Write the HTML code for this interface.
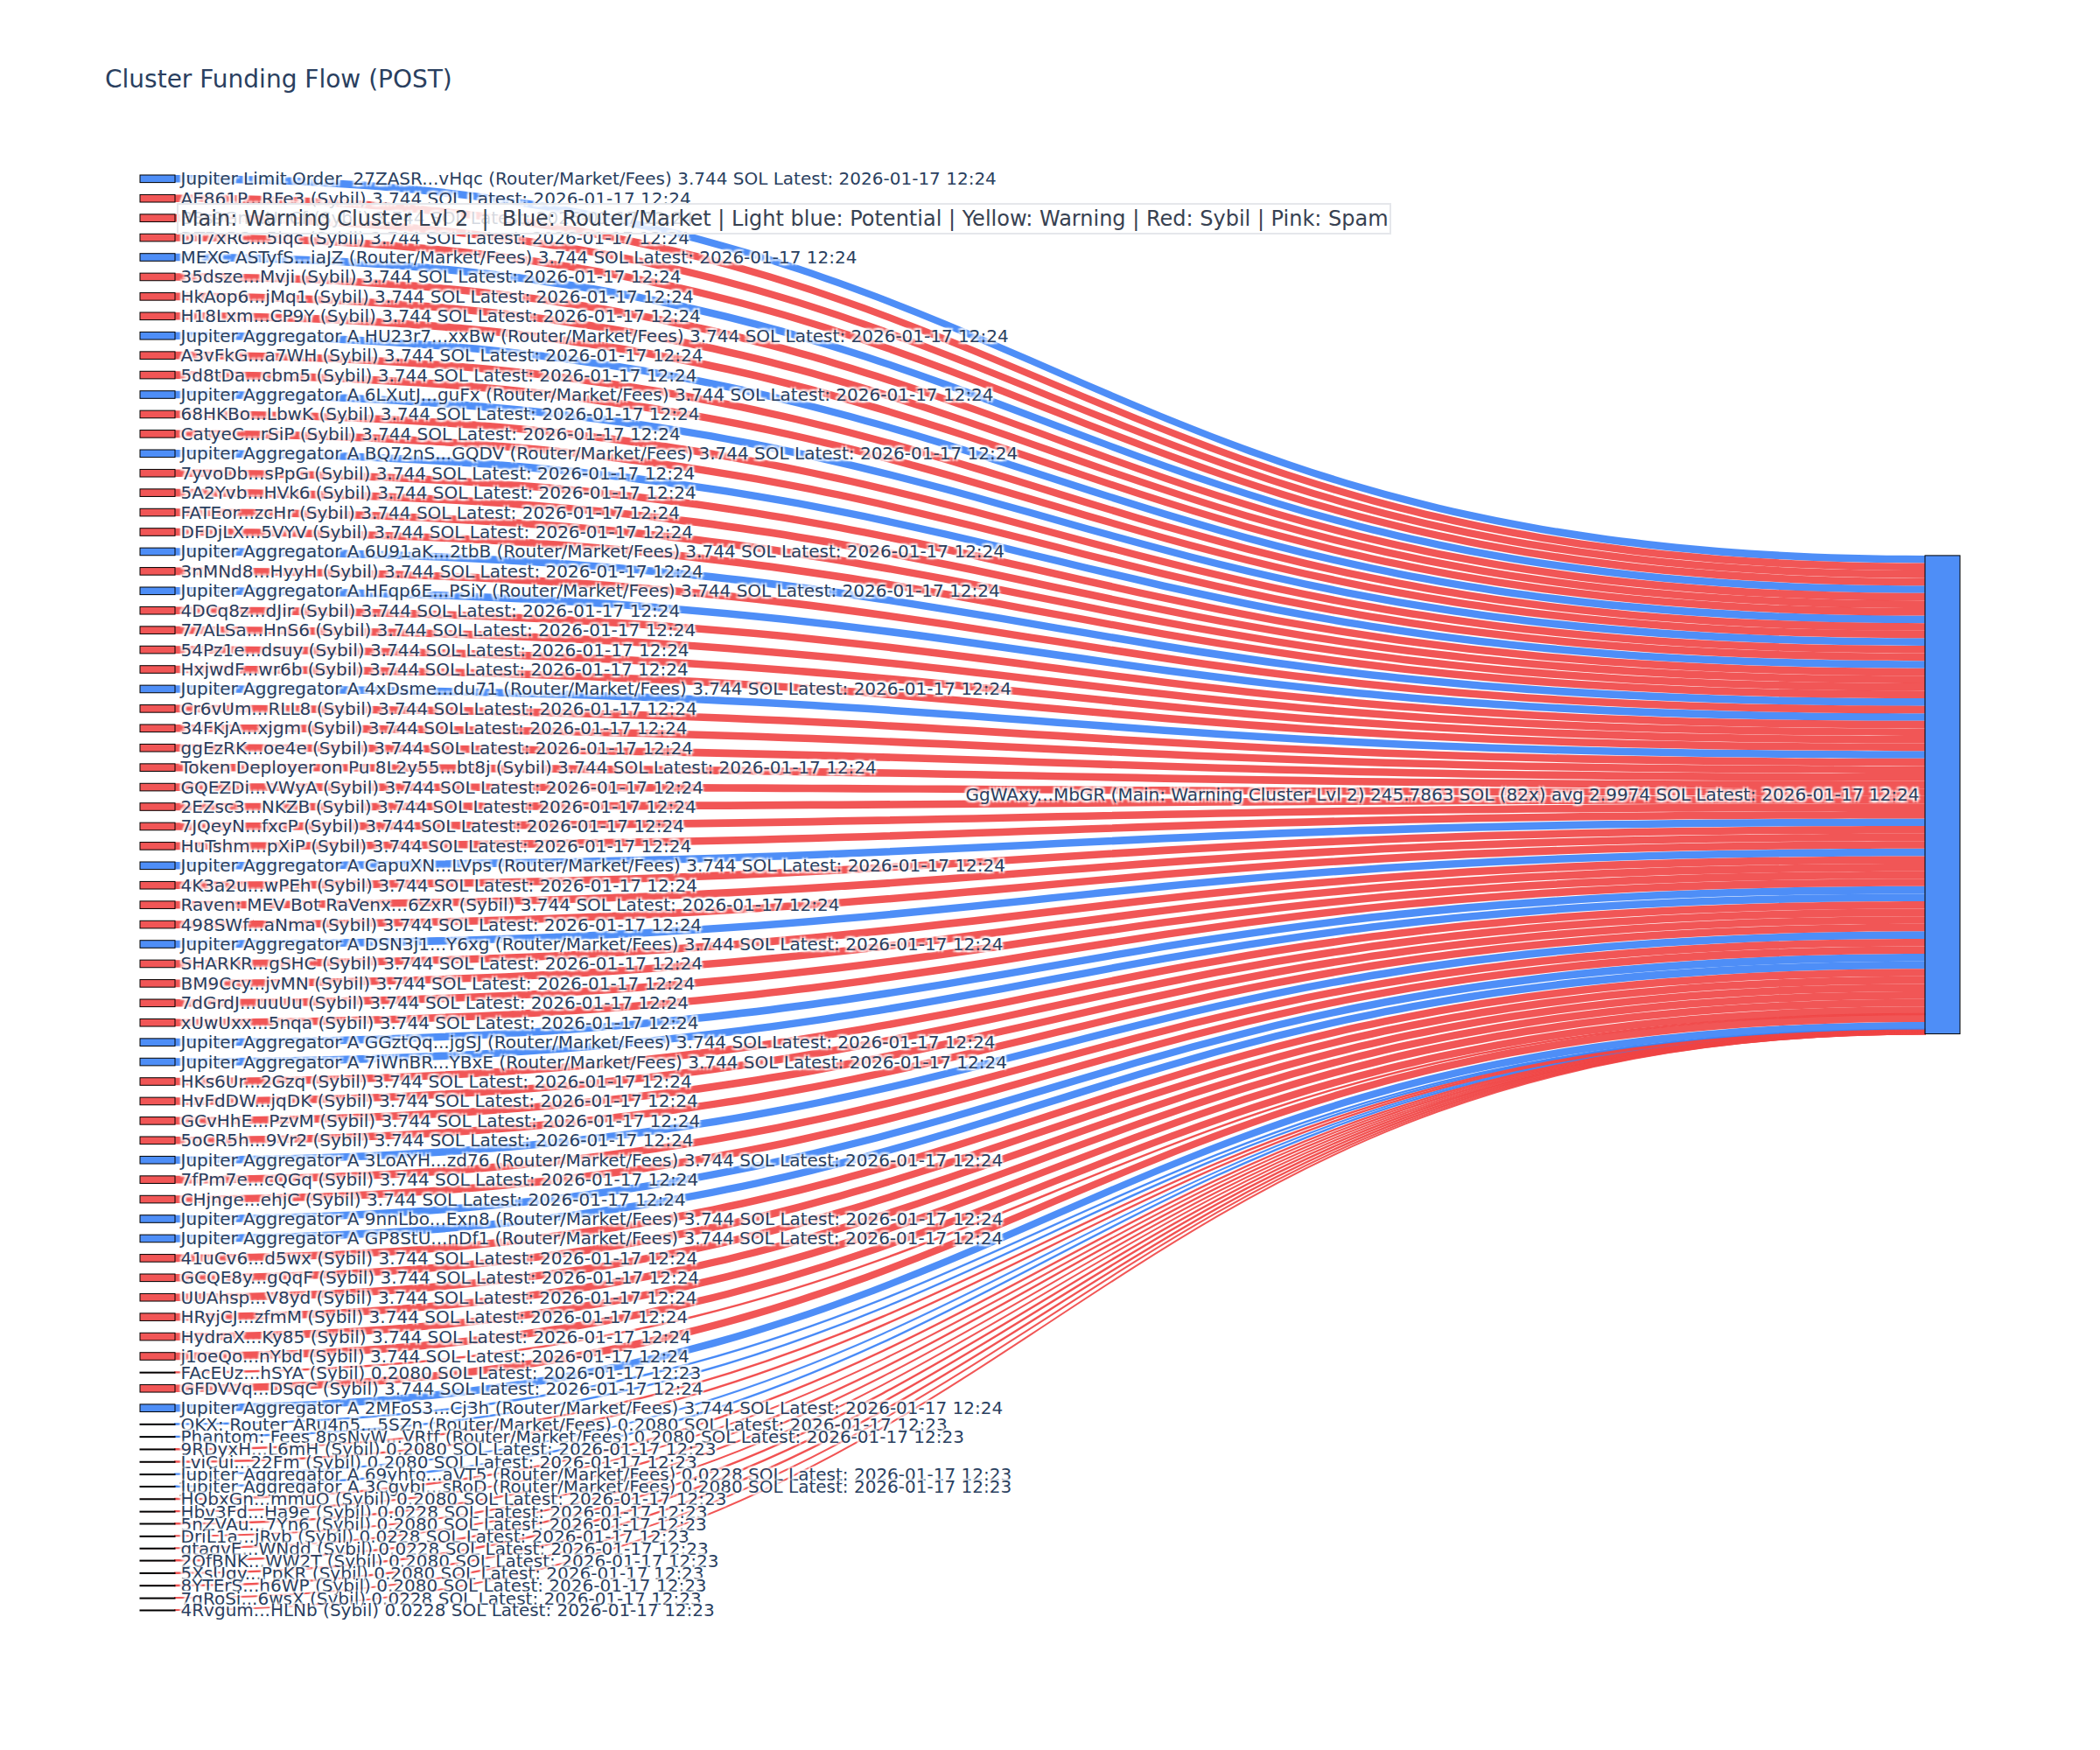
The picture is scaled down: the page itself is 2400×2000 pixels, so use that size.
<!DOCTYPE html>
<html lang="en"><head><meta charset="utf-8"><title>Cluster Funding Flow (POST)</title>
<style>
html,body{margin:0;padding:0;background:#fff}
body{width:2400px;height:2000px;overflow:hidden}
svg{display:block}
text{font-family:"DejaVu Sans","Liberation Sans",sans-serif;fill:#2a3f5f;white-space:pre}
.links path{stroke:none}
.links .b{fill:rgb(59,130,246);fill-opacity:0.9}
.links .r{fill:rgb(239,68,68);fill-opacity:0.9}
.links .b.t{stroke:rgb(59,130,246);stroke-opacity:0.9;stroke-width:1}
.links .r.t{stroke:rgb(239,68,68);stroke-opacity:0.9;stroke-width:1}
.nodes rect{stroke:#000;stroke-width:0.5}
.nodes .b{fill:rgb(59,130,246);fill-opacity:0.9}
.nodes .r{fill:rgb(239,68,68);fill-opacity:0.9}
.labels text{font-size:10px;text-shadow:2px 2px 2px #fff,-2px -2px 2px #fff,2px -2px 2px #fff,-2px 2px 2px #fff}
.title{font-size:14px}
.ann rect{fill:rgb(255,255,255);fill-opacity:0.8;stroke:#e5e7eb;stroke-width:1}
.ann text{font-size:12px;fill:#374151}
</style></head>
<body>
<svg width="2400" height="2000" viewBox="0 0 1200 1000">
<rect width="1200" height="1000" fill="#fff"/>
<g class="links"><path class="b" d="M100,100C600,100 600,317.445 1100,317.445L1100,321.74C600,321.74 600,104.294 100,104.294Z"/><path class="b" d="M100,144.857C600,144.857 600,334.623 1100,334.623L1100,338.918C600,338.918 600,149.152 100,149.152Z"/><path class="b" d="M100,189.714C600,189.714 600,351.801 1100,351.801L1100,356.096C600,356.096 600,194.009 100,194.009Z"/><path class="b" d="M100,223.357C600,223.357 600,364.684 1100,364.684L1100,368.979C600,368.979 600,227.652 100,227.652Z"/><path class="b" d="M100,257C600,257 600,377.568 1100,377.568L1100,381.862C600,381.862 600,261.295 100,261.295Z"/><path class="b" d="M100,313.072C600,313.072 600,399.04 1100,399.04L1100,403.335C600,403.335 600,317.366 100,317.366Z"/><path class="b" d="M100,335.5C600,335.5 600,407.629 1100,407.629L1100,411.924C600,411.924 600,339.795 100,339.795Z"/><path class="b" d="M100,391.572C600,391.572 600,429.102 1100,429.102L1100,433.396C600,433.396 600,395.866 100,395.866Z"/><path class="b" d="M100,492.501C600,492.501 600,467.752 1100,467.752L1100,472.046C600,472.046 600,496.795 100,496.795Z"/><path class="b" d="M100,537.358C600,537.358 600,484.93 1100,484.93L1100,489.224C600,489.224 600,541.652 100,541.652Z"/><path class="b" d="M100,593.43C600,593.43 600,506.402 1100,506.402L1100,510.697C600,510.697 600,597.724 100,597.724Z"/><path class="b" d="M100,604.644C600,604.644 600,510.697 1100,510.697L1100,514.991C600,514.991 600,608.938 100,608.938Z"/><path class="b" d="M100,660.715C600,660.715 600,532.169 1100,532.169L1100,536.464C600,536.464 600,665.01 100,665.01Z"/><path class="b" d="M100,694.358C600,694.358 600,545.052 1100,545.052L1100,549.347C600,549.347 600,698.653 100,698.653Z"/><path class="b" d="M100,705.573C600,705.573 600,549.347 1100,549.347L1100,553.641C600,553.641 600,709.867 100,709.867Z"/><path class="b" d="M100,802.445C600,802.445 600,583.941 1100,583.941L1100,588.236C600,588.236 600,806.74 100,806.74Z"/><path class="b t" d="M100,813.66C600,813.66 600,588.236 1100,588.236L1100,588.474C600,588.474 600,813.898 100,813.898Z"/><path class="b t" d="M100,820.818C600,820.818 600,588.474 1100,588.474L1100,588.713C600,588.713 600,821.057 100,821.057Z"/><path class="b t" d="M100,842.293C600,842.293 600,589.19 1100,589.19L1100,589.216C600,589.216 600,842.32 100,842.32Z"/><path class="b t" d="M100,849.239C600,849.239 600,589.216 1100,589.216L1100,589.455C600,589.455 600,849.478 100,849.478Z"/><path class="r" d="M100,111.214C600,111.214 600,321.74 1100,321.74L1100,326.034C600,326.034 600,115.509 100,115.509Z"/><path class="r" d="M100,122.429C600,122.429 600,326.034 1100,326.034L1100,330.329C600,330.329 600,126.723 100,126.723Z"/><path class="r" d="M100,133.643C600,133.643 600,330.329 1100,330.329L1100,334.623C600,334.623 600,137.937 100,137.937Z"/><path class="r" d="M100,156.072C600,156.072 600,338.918 1100,338.918L1100,343.212C600,343.212 600,160.366 100,160.366Z"/><path class="r" d="M100,167.286C600,167.286 600,343.212 1100,343.212L1100,347.507C600,347.507 600,171.58 100,171.58Z"/><path class="r" d="M100,178.5C600,178.5 600,347.507 1100,347.507L1100,351.801C600,351.801 600,182.795 100,182.795Z"/><path class="r" d="M100,200.929C600,200.929 600,356.096 1100,356.096L1100,360.39C600,360.39 600,205.223 100,205.223Z"/><path class="r" d="M100,212.143C600,212.143 600,360.39 1100,360.39L1100,364.684C600,364.684 600,216.438 100,216.438Z"/><path class="r" d="M100,234.572C600,234.572 600,368.979 1100,368.979L1100,373.273C600,373.273 600,238.866 100,238.866Z"/><path class="r" d="M100,245.786C600,245.786 600,373.273 1100,373.273L1100,377.568C600,377.568 600,250.08 100,250.08Z"/><path class="r" d="M100,268.215C600,268.215 600,381.862 1100,381.862L1100,386.157C600,386.157 600,272.509 100,272.509Z"/><path class="r" d="M100,279.429C600,279.429 600,386.157 1100,386.157L1100,390.451C600,390.451 600,283.723 100,283.723Z"/><path class="r" d="M100,290.643C600,290.643 600,390.451 1100,390.451L1100,394.746C600,394.746 600,294.938 100,294.938Z"/><path class="r" d="M100,301.858C600,301.858 600,394.746 1100,394.746L1100,399.04C600,399.04 600,306.152 100,306.152Z"/><path class="r" d="M100,324.286C600,324.286 600,403.335 1100,403.335L1100,407.629C600,407.629 600,328.581 100,328.581Z"/><path class="r" d="M100,346.715C600,346.715 600,411.924 1100,411.924L1100,416.218C600,416.218 600,351.009 100,351.009Z"/><path class="r" d="M100,357.929C600,357.929 600,416.218 1100,416.218L1100,420.513C600,420.513 600,362.224 100,362.224Z"/><path class="r" d="M100,369.143C600,369.143 600,420.513 1100,420.513L1100,424.807C600,424.807 600,373.438 100,373.438Z"/><path class="r" d="M100,380.358C600,380.358 600,424.807 1100,424.807L1100,429.102C600,429.102 600,384.652 100,384.652Z"/><path class="r" d="M100,402.786C600,402.786 600,433.396 1100,433.396L1100,437.691C600,437.691 600,407.081 100,407.081Z"/><path class="r" d="M100,414.001C600,414.001 600,437.691 1100,437.691L1100,441.985C600,441.985 600,418.295 100,418.295Z"/><path class="r" d="M100,425.215C600,425.215 600,441.985 1100,441.985L1100,446.28C600,446.28 600,429.509 100,429.509Z"/><path class="r" d="M100,436.429C600,436.429 600,446.28 1100,446.28L1100,450.574C600,450.574 600,440.724 100,440.724Z"/><path class="r" d="M100,447.644C600,447.644 600,450.574 1100,450.574L1100,454.868C600,454.868 600,451.938 100,451.938Z"/><path class="r" d="M100,458.858C600,458.858 600,454.868 1100,454.868L1100,459.163C600,459.163 600,463.152 100,463.152Z"/><path class="r" d="M100,470.072C600,470.072 600,459.163 1100,459.163L1100,463.457C600,463.457 600,474.367 100,474.367Z"/><path class="r" d="M100,481.286C600,481.286 600,463.457 1100,463.457L1100,467.752C600,467.752 600,485.581 100,485.581Z"/><path class="r" d="M100,503.715C600,503.715 600,472.046 1100,472.046L1100,476.341C600,476.341 600,508.01 100,508.01Z"/><path class="r" d="M100,514.929C600,514.929 600,476.341 1100,476.341L1100,480.635C600,480.635 600,519.224 100,519.224Z"/><path class="r" d="M100,526.144C600,526.144 600,480.635 1100,480.635L1100,484.93C600,484.93 600,530.438 100,530.438Z"/><path class="r" d="M100,548.572C600,548.572 600,489.224 1100,489.224L1100,493.519C600,493.519 600,552.867 100,552.867Z"/><path class="r" d="M100,559.787C600,559.787 600,493.519 1100,493.519L1100,497.813C600,497.813 600,564.081 100,564.081Z"/><path class="r" d="M100,571.001C600,571.001 600,497.813 1100,497.813L1100,502.108C600,502.108 600,575.295 100,575.295Z"/><path class="r" d="M100,582.215C600,582.215 600,502.108 1100,502.108L1100,506.402C600,506.402 600,586.51 100,586.51Z"/><path class="r" d="M100,615.858C600,615.858 600,514.991 1100,514.991L1100,519.286C600,519.286 600,620.153 100,620.153Z"/><path class="r" d="M100,627.072C600,627.072 600,519.286 1100,519.286L1100,523.58C600,523.58 600,631.367 100,631.367Z"/><path class="r" d="M100,638.287C600,638.287 600,523.58 1100,523.58L1100,527.875C600,527.875 600,642.581 100,642.581Z"/><path class="r" d="M100,649.501C600,649.501 600,527.875 1100,527.875L1100,532.169C600,532.169 600,653.796 100,653.796Z"/><path class="r" d="M100,671.93C600,671.93 600,536.464 1100,536.464L1100,540.758C600,540.758 600,676.224 100,676.224Z"/><path class="r" d="M100,683.144C600,683.144 600,540.758 1100,540.758L1100,545.052C600,545.052 600,687.438 100,687.438Z"/><path class="r" d="M100,716.787C600,716.787 600,553.641 1100,553.641L1100,557.936C600,557.936 600,721.081 100,721.081Z"/><path class="r" d="M100,728.001C600,728.001 600,557.936 1100,557.936L1100,562.23C600,562.23 600,732.296 100,732.296Z"/><path class="r" d="M100,739.216C600,739.216 600,562.23 1100,562.23L1100,566.525C600,566.525 600,743.51 100,743.51Z"/><path class="r" d="M100,750.43C600,750.43 600,566.525 1100,566.525L1100,570.819C600,570.819 600,754.724 100,754.724Z"/><path class="r" d="M100,761.644C600,761.644 600,570.819 1100,570.819L1100,575.114C600,575.114 600,765.939 100,765.939Z"/><path class="r" d="M100,772.858C600,772.858 600,575.114 1100,575.114L1100,579.408C600,579.408 600,777.153 100,777.153Z"/><path class="r t" d="M100,784.073C600,784.073 600,579.408 1100,579.408L1100,579.647C600,579.647 600,784.311 100,784.311Z"/><path class="r" d="M100,791.231C600,791.231 600,579.647 1100,579.647L1100,583.941C600,583.941 600,795.526 100,795.526Z"/><path class="r t" d="M100,827.977C600,827.977 600,588.713 1100,588.713L1100,588.952C600,588.952 600,828.215 100,828.215Z"/><path class="r t" d="M100,835.135C600,835.135 600,588.952 1100,588.952L1100,589.19C600,589.19 600,835.374 100,835.374Z"/><path class="r t" d="M100,856.398C600,856.398 600,589.455 1100,589.455L1100,589.693C600,589.693 600,856.636 100,856.636Z"/><path class="r t" d="M100,863.556C600,863.556 600,589.693 1100,589.693L1100,589.72C600,589.72 600,863.582 100,863.582Z"/><path class="r t" d="M100,870.502C600,870.502 600,589.72 1100,589.72L1100,589.958C600,589.958 600,870.741 100,870.741Z"/><path class="r t" d="M100,877.661C600,877.661 600,589.958 1100,589.958L1100,589.984C600,589.984 600,877.687 100,877.687Z"/><path class="r t" d="M100,884.607C600,884.607 600,589.984 1100,589.984L1100,590.011C600,590.011 600,884.633 100,884.633Z"/><path class="r t" d="M100,891.553C600,891.553 600,590.011 1100,590.011L1100,590.249C600,590.249 600,891.791 100,891.791Z"/><path class="r t" d="M100,898.711C600,898.711 600,590.249 1100,590.249L1100,590.488C600,590.488 600,898.95 100,898.95Z"/><path class="r t" d="M100,905.869C600,905.869 600,590.488 1100,590.488L1100,590.726C600,590.726 600,906.108 100,906.108Z"/><path class="r t" d="M100,913.028C600,913.028 600,590.726 1100,590.726L1100,590.752C600,590.752 600,913.054 100,913.054Z"/><path class="r t" d="M100,919.974C600,919.974 600,590.752 1100,590.752L1100,590.779C600,590.779 600,920 100,920Z"/></g>
<g class="nodes"><rect class="b" x="80" y="100" width="20" height="4.294"/><rect class="r" x="80" y="111.214" width="20" height="4.294"/><rect class="r" x="80" y="122.429" width="20" height="4.294"/><rect class="r" x="80" y="133.643" width="20" height="4.294"/><rect class="b" x="80" y="144.857" width="20" height="4.294"/><rect class="r" x="80" y="156.072" width="20" height="4.294"/><rect class="r" x="80" y="167.286" width="20" height="4.294"/><rect class="r" x="80" y="178.5" width="20" height="4.294"/><rect class="b" x="80" y="189.714" width="20" height="4.294"/><rect class="r" x="80" y="200.929" width="20" height="4.294"/><rect class="r" x="80" y="212.143" width="20" height="4.294"/><rect class="b" x="80" y="223.357" width="20" height="4.294"/><rect class="r" x="80" y="234.572" width="20" height="4.294"/><rect class="r" x="80" y="245.786" width="20" height="4.294"/><rect class="b" x="80" y="257" width="20" height="4.294"/><rect class="r" x="80" y="268.215" width="20" height="4.294"/><rect class="r" x="80" y="279.429" width="20" height="4.294"/><rect class="r" x="80" y="290.643" width="20" height="4.294"/><rect class="r" x="80" y="301.858" width="20" height="4.294"/><rect class="b" x="80" y="313.072" width="20" height="4.294"/><rect class="r" x="80" y="324.286" width="20" height="4.294"/><rect class="b" x="80" y="335.5" width="20" height="4.294"/><rect class="r" x="80" y="346.715" width="20" height="4.294"/><rect class="r" x="80" y="357.929" width="20" height="4.294"/><rect class="r" x="80" y="369.143" width="20" height="4.294"/><rect class="r" x="80" y="380.358" width="20" height="4.294"/><rect class="b" x="80" y="391.572" width="20" height="4.294"/><rect class="r" x="80" y="402.786" width="20" height="4.294"/><rect class="r" x="80" y="414.001" width="20" height="4.294"/><rect class="r" x="80" y="425.215" width="20" height="4.294"/><rect class="r" x="80" y="436.429" width="20" height="4.294"/><rect class="r" x="80" y="447.644" width="20" height="4.294"/><rect class="r" x="80" y="458.858" width="20" height="4.294"/><rect class="r" x="80" y="470.072" width="20" height="4.294"/><rect class="r" x="80" y="481.286" width="20" height="4.294"/><rect class="b" x="80" y="492.501" width="20" height="4.294"/><rect class="r" x="80" y="503.715" width="20" height="4.294"/><rect class="r" x="80" y="514.929" width="20" height="4.294"/><rect class="r" x="80" y="526.144" width="20" height="4.294"/><rect class="b" x="80" y="537.358" width="20" height="4.294"/><rect class="r" x="80" y="548.572" width="20" height="4.294"/><rect class="r" x="80" y="559.787" width="20" height="4.294"/><rect class="r" x="80" y="571.001" width="20" height="4.294"/><rect class="r" x="80" y="582.215" width="20" height="4.294"/><rect class="b" x="80" y="593.43" width="20" height="4.294"/><rect class="b" x="80" y="604.644" width="20" height="4.294"/><rect class="r" x="80" y="615.858" width="20" height="4.294"/><rect class="r" x="80" y="627.072" width="20" height="4.294"/><rect class="r" x="80" y="638.287" width="20" height="4.294"/><rect class="r" x="80" y="649.501" width="20" height="4.294"/><rect class="b" x="80" y="660.715" width="20" height="4.294"/><rect class="r" x="80" y="671.93" width="20" height="4.294"/><rect class="r" x="80" y="683.144" width="20" height="4.294"/><rect class="b" x="80" y="694.358" width="20" height="4.294"/><rect class="b" x="80" y="705.573" width="20" height="4.294"/><rect class="r" x="80" y="716.787" width="20" height="4.294"/><rect class="r" x="80" y="728.001" width="20" height="4.294"/><rect class="r" x="80" y="739.216" width="20" height="4.294"/><rect class="r" x="80" y="750.43" width="20" height="4.294"/><rect class="r" x="80" y="761.644" width="20" height="4.294"/><rect class="r" x="80" y="772.858" width="20" height="4.294"/><rect class="r" x="80" y="784.073" width="20" height="0.5"/><rect class="r" x="80" y="791.231" width="20" height="4.294"/><rect class="b" x="80" y="802.445" width="20" height="4.294"/><rect class="b" x="80" y="813.66" width="20" height="0.5"/><rect class="b" x="80" y="820.818" width="20" height="0.5"/><rect class="r" x="80" y="827.977" width="20" height="0.5"/><rect class="r" x="80" y="835.135" width="20" height="0.5"/><rect class="b" x="80" y="842.293" width="20" height="0.5"/><rect class="b" x="80" y="849.239" width="20" height="0.5"/><rect class="r" x="80" y="856.398" width="20" height="0.5"/><rect class="r" x="80" y="863.556" width="20" height="0.5"/><rect class="r" x="80" y="870.502" width="20" height="0.5"/><rect class="r" x="80" y="877.661" width="20" height="0.5"/><rect class="r" x="80" y="884.607" width="20" height="0.5"/><rect class="r" x="80" y="891.553" width="20" height="0.5"/><rect class="r" x="80" y="898.711" width="20" height="0.5"/><rect class="r" x="80" y="905.869" width="20" height="0.5"/><rect class="r" x="80" y="913.028" width="20" height="0.5"/><rect class="r" x="80" y="919.974" width="20" height="0.5"/>
<rect class="b" x="1100" y="317.445" width="20" height="273.333"/>
</g>
<g class="labels"><text x="103.25" y="105.647">Jupiter Limit Order  27ZASR...vHqc (Router/Market/Fees) 3.744 SOL Latest: 2026-01-17 12:24</text><text x="103.25" y="116.862">AE861P...RFe3 (Sybil) 3.744 SOL Latest: 2026-01-17 12:24</text><text x="103.25" y="128.076">B8s9Gn...UnCf (Sybil) 3.744 SOL Latest: 2026-01-17 12:24</text><text x="103.25" y="139.29">DT7xRC...5iqc (Sybil) 3.744 SOL Latest: 2026-01-17 12:24</text><text x="103.25" y="150.504">MEXC ASTyfS...iaJZ (Router/Market/Fees) 3.744 SOL Latest: 2026-01-17 12:24</text><text x="103.25" y="161.719">35dsze...Mvji (Sybil) 3.744 SOL Latest: 2026-01-17 12:24</text><text x="103.25" y="172.933">HkAop6...jMq1 (Sybil) 3.744 SOL Latest: 2026-01-17 12:24</text><text x="103.25" y="184.147">H18Lxm...CP9Y (Sybil) 3.744 SOL Latest: 2026-01-17 12:24</text><text x="103.25" y="195.362">Jupiter Aggregator A HU23r7...xxBw (Router/Market/Fees) 3.744 SOL Latest: 2026-01-17 12:24</text><text x="103.25" y="206.576">A3vFkG...a7WH (Sybil) 3.744 SOL Latest: 2026-01-17 12:24</text><text x="103.25" y="217.79">5d8tDa...cbm5 (Sybil) 3.744 SOL Latest: 2026-01-17 12:24</text><text x="103.25" y="229.005">Jupiter Aggregator A 6LXutJ...guFx (Router/Market/Fees) 3.744 SOL Latest: 2026-01-17 12:24</text><text x="103.25" y="240.219">68HKBo...LbwK (Sybil) 3.744 SOL Latest: 2026-01-17 12:24</text><text x="103.25" y="251.433">CatyeC...rSiP (Sybil) 3.744 SOL Latest: 2026-01-17 12:24</text><text x="103.25" y="262.648">Jupiter Aggregator A BQ72nS...GQDV (Router/Market/Fees) 3.744 SOL Latest: 2026-01-17 12:24</text><text x="103.25" y="273.862">7yvoDb...sPpG (Sybil) 3.744 SOL Latest: 2026-01-17 12:24</text><text x="103.25" y="285.076">5A2Yvb...HVk6 (Sybil) 3.744 SOL Latest: 2026-01-17 12:24</text><text x="103.25" y="296.29">FATEor...zcHr (Sybil) 3.744 SOL Latest: 2026-01-17 12:24</text><text x="103.25" y="307.505">DFDjLX...5VYV (Sybil) 3.744 SOL Latest: 2026-01-17 12:24</text><text x="103.25" y="318.719">Jupiter Aggregator A 6U91aK...2tbB (Router/Market/Fees) 3.744 SOL Latest: 2026-01-17 12:24</text><text x="103.25" y="329.933">3nMNd8...HyyH (Sybil) 3.744 SOL Latest: 2026-01-17 12:24</text><text x="103.25" y="341.148">Jupiter Aggregator A HFqp6E...PSiY (Router/Market/Fees) 3.744 SOL Latest: 2026-01-17 12:24</text><text x="103.25" y="352.362">4DCq8z...dJir (Sybil) 3.744 SOL Latest: 2026-01-17 12:24</text><text x="103.25" y="363.576">77ALSa...HnS6 (Sybil) 3.744 SOL Latest: 2026-01-17 12:24</text><text x="103.25" y="374.791">54Pz1e...dsuy (Sybil) 3.744 SOL Latest: 2026-01-17 12:24</text><text x="103.25" y="386.005">HxjwdF...wr6b (Sybil) 3.744 SOL Latest: 2026-01-17 12:24</text><text x="103.25" y="397.219">Jupiter Aggregator A 4xDsme...du71 (Router/Market/Fees) 3.744 SOL Latest: 2026-01-17 12:24</text><text x="103.25" y="408.434">Cr6vUm...RLL8 (Sybil) 3.744 SOL Latest: 2026-01-17 12:24</text><text x="103.25" y="419.648">34FKjA...xjgm (Sybil) 3.744 SOL Latest: 2026-01-17 12:24</text><text x="103.25" y="430.862">ggEzRK...oe4e (Sybil) 3.744 SOL Latest: 2026-01-17 12:24</text><text x="103.25" y="442.076">Token Deployer on Pu 8L2y55...bt8j (Sybil) 3.744 SOL Latest: 2026-01-17 12:24</text><text x="103.25" y="453.291">GQEZDi...VWyA (Sybil) 3.744 SOL Latest: 2026-01-17 12:24</text><text x="103.25" y="464.505">2EZsc3...NKZB (Sybil) 3.744 SOL Latest: 2026-01-17 12:24</text><text x="103.25" y="475.719">7JQeyN...fxcP (Sybil) 3.744 SOL Latest: 2026-01-17 12:24</text><text x="103.25" y="486.934">HuTshm...pXiP (Sybil) 3.744 SOL Latest: 2026-01-17 12:24</text><text x="103.25" y="498.148">Jupiter Aggregator A CapuXN...LVps (Router/Market/Fees) 3.744 SOL Latest: 2026-01-17 12:24</text><text x="103.25" y="509.362">4K3a2u...wPEh (Sybil) 3.744 SOL Latest: 2026-01-17 12:24</text><text x="103.25" y="520.577">Raven: MEV Bot RaVenx...6ZxR (Sybil) 3.744 SOL Latest: 2026-01-17 12:24</text><text x="103.25" y="531.791">498SWf...aNma (Sybil) 3.744 SOL Latest: 2026-01-17 12:24</text><text x="103.25" y="543.005">Jupiter Aggregator A DSN3j1...Y6xg (Router/Market/Fees) 3.744 SOL Latest: 2026-01-17 12:24</text><text x="103.25" y="554.22">SHARKR...gSHC (Sybil) 3.744 SOL Latest: 2026-01-17 12:24</text><text x="103.25" y="565.434">BM9Ccy...jvMN (Sybil) 3.744 SOL Latest: 2026-01-17 12:24</text><text x="103.25" y="576.648">7dGrdJ...uuUu (Sybil) 3.744 SOL Latest: 2026-01-17 12:24</text><text x="103.25" y="587.862">xUwUxx...5nqa (Sybil) 3.744 SOL Latest: 2026-01-17 12:24</text><text x="103.25" y="599.077">Jupiter Aggregator A GGztQq...jgSJ (Router/Market/Fees) 3.744 SOL Latest: 2026-01-17 12:24</text><text x="103.25" y="610.291">Jupiter Aggregator A 7iWnBR...YBxE (Router/Market/Fees) 3.744 SOL Latest: 2026-01-17 12:24</text><text x="103.25" y="621.505">HKs6Ur...2Gzq (Sybil) 3.744 SOL Latest: 2026-01-17 12:24</text><text x="103.25" y="632.72">HvFdDW...jqDK (Sybil) 3.744 SOL Latest: 2026-01-17 12:24</text><text x="103.25" y="643.934">GCvHhE...PzvM (Sybil) 3.744 SOL Latest: 2026-01-17 12:24</text><text x="103.25" y="655.148">5oCR5h...9Vr2 (Sybil) 3.744 SOL Latest: 2026-01-17 12:24</text><text x="103.25" y="666.363">Jupiter Aggregator A 3LoAYH...zd76 (Router/Market/Fees) 3.744 SOL Latest: 2026-01-17 12:24</text><text x="103.25" y="677.577">7fPm7e...cQGq (Sybil) 3.744 SOL Latest: 2026-01-17 12:24</text><text x="103.25" y="688.791">CHjnge...ehjC (Sybil) 3.744 SOL Latest: 2026-01-17 12:24</text><text x="103.25" y="700.006">Jupiter Aggregator A 9nnLbo...Exn8 (Router/Market/Fees) 3.744 SOL Latest: 2026-01-17 12:24</text><text x="103.25" y="711.22">Jupiter Aggregator A GP8StU...nDf1 (Router/Market/Fees) 3.744 SOL Latest: 2026-01-17 12:24</text><text x="103.25" y="722.434">41uCv6...d5wx (Sybil) 3.744 SOL Latest: 2026-01-17 12:24</text><text x="103.25" y="733.648">GCQE8y...gQqF (Sybil) 3.744 SOL Latest: 2026-01-17 12:24</text><text x="103.25" y="744.863">UUAhsp...V8yd (Sybil) 3.744 SOL Latest: 2026-01-17 12:24</text><text x="103.25" y="756.077">HRyjCJ...zfmM (Sybil) 3.744 SOL Latest: 2026-01-17 12:24</text><text x="103.25" y="767.291">HydraX...Ky85 (Sybil) 3.744 SOL Latest: 2026-01-17 12:24</text><text x="103.25" y="778.506">j1oeQo...nYbd (Sybil) 3.744 SOL Latest: 2026-01-17 12:24</text><text x="103.25" y="787.823">FAcEUz...hSYA (Sybil) 0.2080 SOL Latest: 2026-01-17 12:23</text><text x="103.25" y="796.878">GFDVVq...DSqC (Sybil) 3.744 SOL Latest: 2026-01-17 12:24</text><text x="103.25" y="808.093">Jupiter Aggregator A 2MFoS3...Cj3h (Router/Market/Fees) 3.744 SOL Latest: 2026-01-17 12:24</text><text x="103.25" y="817.41">OKX: Router ARu4n5...5SZn (Router/Market/Fees) 0.2080 SOL Latest: 2026-01-17 12:23</text><text x="103.25" y="824.568">Phantom: Fees 8psNvW...VRtf (Router/Market/Fees) 0.2080 SOL Latest: 2026-01-17 12:23</text><text x="103.25" y="831.727">9RDyxH...L6mH (Sybil) 0.2080 SOL Latest: 2026-01-17 12:23</text><text x="103.25" y="838.885">LviCui...22Fm (Sybil) 0.2080 SOL Latest: 2026-01-17 12:23</text><text x="103.25" y="846.043">Jupiter Aggregator A 69yhto...aVT5 (Router/Market/Fees) 0.0228 SOL Latest: 2026-01-17 12:23</text><text x="103.25" y="852.989">Jupiter Aggregator A 3Cgvbi...sRoD (Router/Market/Fees) 0.2080 SOL Latest: 2026-01-17 12:23</text><text x="103.25" y="860.148">HQbxGn...mmuO (Sybil) 0.2080 SOL Latest: 2026-01-17 12:23</text><text x="103.25" y="867.306">Hbv3Fd...Ha9e (Sybil) 0.0228 SOL Latest: 2026-01-17 12:23</text><text x="103.25" y="874.252">5nZVAu...7Yn6 (Sybil) 0.2080 SOL Latest: 2026-01-17 12:23</text><text x="103.25" y="881.411">DriL1a...jRyb (Sybil) 0.0228 SOL Latest: 2026-01-17 12:23</text><text x="103.25" y="888.357">gtagvE...WNdd (Sybil) 0.0228 SOL Latest: 2026-01-17 12:23</text><text x="103.25" y="895.303">2QfBNK...WW2T (Sybil) 0.2080 SOL Latest: 2026-01-17 12:23</text><text x="103.25" y="902.461">5XsUgy...PpKR (Sybil) 0.2080 SOL Latest: 2026-01-17 12:23</text><text x="103.25" y="909.619">8YTErS...h6WP (Sybil) 0.2080 SOL Latest: 2026-01-17 12:23</text><text x="103.25" y="916.778">7qRoSi...6wsX (Sybil) 0.0228 SOL Latest: 2026-01-17 12:23</text><text x="103.25" y="923.724">4Rvgum...HLNb (Sybil) 0.0228 SOL Latest: 2026-01-17 12:23</text>
<text text-anchor="end" x="1096.75" y="457.612">GgWAxy...MbGR (Main: Warning Cluster Lvl 2) 245.7863 SOL (82x) avg 2.9974 SOL Latest: 2026-01-17 12:24</text>
</g>
<text class="title" x="60" y="50">Cluster Funding Flow (POST)</text>
<g class="ann"><rect x="101.5" y="116.5" width="693" height="17"/><text x="102.95" y="128.95">Main: Warning Cluster Lvl 2  |  Blue: Router/Market | Light blue: Potential | Yellow: Warning | Red: Sybil | Pink: Spam</text></g>
</svg>
</body></html>
